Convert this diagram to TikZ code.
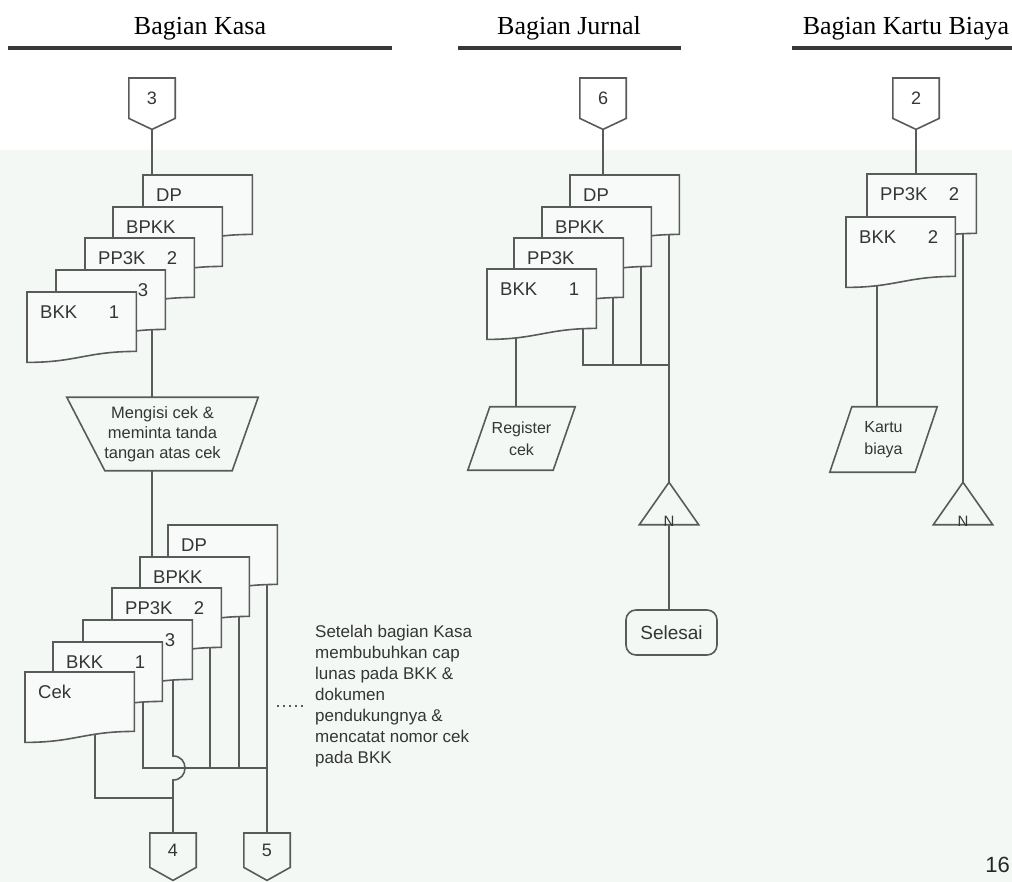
\documentclass[tikz,border=0pt]{standalone}
\usepackage{fontspec}
\setmainfont{Liberation Serif}
\newfontfamily\diafont{Liberation Sans}
\usetikzlibrary{calc}

\definecolor{ink}{HTML}{5A5A5A}
\definecolor{txt}{HTML}{353535}
\definecolor{paper}{HTML}{F4F8F5}
\definecolor{sheet}{HTML}{F8FAF9}
\definecolor{rulegray}{HTML}{383838}

\pgfdeclarelayer{ground}
\pgfdeclarelayer{wires}
\pgfsetlayers{ground,wires,main}

\tikzset{
  wire/.style={draw=ink, line width=1.6pt},
  outline/.style={draw=ink, line width=1.6pt, line join=miter},
  sheetline/.style={draw=ink, fill=sheet, line width=1.6pt, line join=miter},
  docnode/.style={rectangle, inner sep=0pt, minimum width=109pt, minimum height=59pt, anchor=north west},
  doctext/.style={text=txt, inner sep=0pt, font=\diafont\fontsize{18.5}{20}\selectfont},
  offnode/.style={rectangle, inner sep=0pt, minimum width=46pt, anchor=north, text=txt,
    font=\diafont\fontsize{18}{20}\selectfont},
  shapebox/.style={rectangle, inner sep=0pt, align=center, text=txt},
  procfont/.style={font=\diafont\fontsize{16.5}{20}\selectfont},
  iofont/.style={font=\diafont\fontsize{16}{22}\selectfont},
  ntext/.style={text=txt, inner sep=0pt, font=\diafont\fontsize{15}{16}\selectfont},
  terminal/.style={rectangle, rounded corners=10pt, draw=ink, line width=1.6pt, inner sep=0pt,
    minimum width=91pt, minimum height=45pt, text=txt, font=\diafont\fontsize{19}{22}\selectfont},
  note/.style={inner sep=0pt, align=left, text=txt, font=\diafont\fontsize{17}{21}\selectfont},
  head/.style={inner sep=0pt, anchor=base, text=black, font=\fontsize{26}{30}\selectfont},
  headrule/.style={draw=rulegray, line width=3.6pt},
  leader/.style={draw=ink, line width=2pt, dash pattern=on 2pt off 4pt},
  pagenum/.style={inner sep=0pt, anchor=base east, text=black!85, font=\diafont\fontsize{22}{24}\selectfont}
}

% off-page connector: name, top centre, label, box height, tip depth
\newcommand\offpage[5]{%
  \node[offnode, minimum height=#4] (#1) at (#2) {#3};
  \coordinate (#1-tip) at ($(#1.south)+(0,#5)$);
  \draw[outline] (#1.north west) -- (#1.north east) -- (#1.south east) -- (#1-tip)
    -- (#1.south west) -- cycle;}

% document sheet with a wavy lower edge: name, top-left corner, left text, right text
\newcommand\paperdoc[4]{%
  \node[docnode] (#1) at (#2) {};
  \filldraw[sheetline] (#1.north west) -- (#1.north east) -- (#1.south east)
    .. controls +(-50,0) and +(50,0) .. ($(#1.south west)+(0,11)$) -- cycle;
  \node[doctext, anchor=west] (#1-a) at ($(#1.north west)+(13,20)$) {#3};
  \node[doctext] (#1-b) at ($(#1.north west)+(87,20)$) {#4};}

% merge triangle with its letter on the base
\newcommand\mergetri[2]{%
  \node[rectangle, inner sep=0pt, minimum width=59pt, minimum height=42pt] (#1) at (#2) {};
  \draw[outline] (#1.south west) -- (#1.north) -- (#1.south east) -- cycle;
  \node[ntext] (#1-n) at ($(#1.south)+(0,-3)$) {N};}

\begin{document}
\begin{tikzpicture}[x=1pt, y=-1pt]
\useasboundingbox (0,0) rectangle (1012,882);
\clip (0,0) rectangle (1012,882);

\begin{pgfonlayer}{ground}
  \fill[paper] (0,0) rectangle (1012,882);
  \fill[white] (0,0) rectangle (1012,150);
\end{pgfonlayer}

% ---------- column headings ----------
\node[head] (hkasa) at (200,35) {Bagian Kasa};
\node[head] (hjurnal) at (569,35) {Bagian Jurnal};
\node[head] (hbiaya) at (906,35) {Bagian Kartu Biaya};
\draw[headrule] (8,48) -- (392,48);
\draw[headrule] (458,48) -- (681,48);
\draw[headrule] (792,48) -- (1012,48);

% ---------- Bagian Kasa ----------
\offpage{c3}{152,78}{3}{40pt}{11}
\paperdoc{kdp1}{143,175}{DP}{}
\paperdoc{kbpkk1}{113,207}{BPKK}{}
\paperdoc{kpp1}{85,238}{PP3K}{2}
\paperdoc{kthree1}{56,270}{}{3}
\paperdoc{kbkk1}{27,292}{BKK}{1}

\node[shapebox, procfont, minimum width=191pt, minimum height=73pt] (ktrap) at (162.5,434)
  {Mengisi cek \&\\meminta tanda\\tangan atas cek};
\draw[outline] (ktrap.north west) -- (ktrap.north east) -- ($(ktrap.south east)+(-26,0)$)
  -- ($(ktrap.south west)+(38,0)$) -- cycle;

\paperdoc{kdp2}{168,525}{DP}{}
\paperdoc{kbpkk2}{140,557}{BPKK}{}
\paperdoc{kpp2}{112,588}{PP3K}{2}
\paperdoc{kthree2}{83,620}{}{3}
\paperdoc{kbkk2}{53,642}{BKK}{1}
\paperdoc{kcek}{25,672}{Cek}{}

\offpage{c4}{173,833}{4}{34pt}{13}
\offpage{c5}{267,833}{5}{34pt}{13}

\node[note, anchor=west] (knote) at (315,696)
  {Setelah bagian Kasa\\membubuhkan cap\\lunas pada BKK \&\\dokumen\\pendukungnya \&\\mencatat nomor cek\\pada BKK};
\coordinate (kdotL) at ($(knote.west)+(-38,10)$);
\coordinate (kdotR) at ($(knote.west)+(-9,10)$);
\draw[leader] (kdotL) -- (kdotR);

\coordinate (kv1) at ($(kbkk2.south west)+(90,0)$);
\coordinate (kv3) at ($(kthree2.south west)+(90,0)$);
\coordinate (kv2) at ($(kpp2.south west)+(98,0)$);
\coordinate (kv4) at ($(kbpkk2.south west)+(99,0)$);
\coordinate (kv5) at ($(kdp2.south west)+(99,0)$);
\coordinate (kvc) at ($(kcek.south west)+(70,0)$);
\coordinate (kbus) at ($(c5.north)+(0,-65)$);
\coordinate (kjoin) at ($(c4.north)+(0,-35)$);

% ---------- Bagian Jurnal ----------
\offpage{c6}{603,78}{6}{40pt}{11}
\paperdoc{jdp}{570,175}{DP}{}
\paperdoc{jbpkk}{542,207}{BPKK}{}
\paperdoc{jpp}{514,238}{PP3K}{}
\paperdoc{jbkk}{487,269}{BKK}{1}

\node[shapebox, iofont, minimum width=107pt, minimum height=63pt] (jreg) at (521.5,438.5) {Register\\cek};
\draw[outline] ($(jreg.north west)+(22,0)$) -- (jreg.north east) -- ($(jreg.south east)+(-22,0)$)
  -- (jreg.south west) -- cycle;

\mergetri{jtri}{669,503.5}
\node[terminal] (jsel) at (671.5,632.5) {Selesai};

\coordinate (jv1) at ($(jbkk.south west)+(96,0)$);
\coordinate (jv2) at ($(jpp.south west)+(99,0)$);
\coordinate (jv3) at ($(jbpkk.south west)+(99,0)$);
\coordinate (jv4) at ($(jdp.south west)+(99,0)$);
\coordinate (jvr) at ($(jbkk.south west)+(29,0)$);
\coordinate (jbus) at ($(jtri.north)+(0,-117)$);

% ---------- Bagian Kartu Biaya ----------
\offpage{c2}{916,78}{2}{40pt}{11}
\paperdoc{bpp}{867,174}{PP3K}{2}
\paperdoc{bbkk}{846,217}{BKK}{2}

\node[shapebox, iofont, minimum width=107pt, minimum height=65pt] (bkartu) at (883.5,439.5) {Kartu\\biaya};
\draw[outline] ($(bkartu.north west)+(22,0)$) -- (bkartu.north east) -- ($(bkartu.south east)+(-22,0)$)
  -- (bkartu.south west) -- cycle;

\mergetri{btri}{963,503.5}

\coordinate (bv1) at ($(bpp.south west)+(96,0)$);
\coordinate (bvr) at ($(bbkk.south west)+(31,0)$);

\node[pagenum] (pnum) at (1010,872) {16};

% ---------- flow lines ----------
\begin{pgfonlayer}{wires}
  % Kasa
  \draw[wire] (c3-tip) -- (c3-tip |- kdp1.north);
  \draw[wire] (c3-tip |- kthree1.south) -- (c3-tip |- ktrap.north);
  \draw[wire] (c3-tip |- ktrap.south) -- (c3-tip |- kbpkk2.north);
  \draw[wire] (kv1) |- (kbus);
  \draw[wire] (kv2) -- (kv2 |- kbus);
  \draw[wire] (kv4) -- (kv4 |- kbus);
  \draw[wire] (kv5) -- (c5.north);
  \draw[wire] (kvc) |- (kjoin);
  \draw[wire] (kv3) -- ($(kv3 |- kbus)+(0,-12)$)
    .. controls +(16,0) and +(16,0) .. ($(kv3 |- kbus)+(0,12)$) -- (c4.north);
  % Jurnal
  \draw[wire] (c6-tip) -- (c6-tip |- jdp.north);
  \draw[wire] (jvr) -- (jvr |- jreg.north);
  \draw[wire] (jv1) |- (jbus);
  \draw[wire] (jv2) -- (jv2 |- jbus);
  \draw[wire] (jv3) -- (jv3 |- jbus);
  \draw[wire] (jv4) -- (jtri.north);
  \draw[wire] (jtri.south) -- (jtri.south |- jsel.north);
  % Kartu Biaya
  \draw[wire] (c2-tip) -- (c2-tip |- bpp.north);
  \draw[wire] (bv1) -- (btri.north);
  \draw[wire] (bvr) -- (bvr |- bkartu.north);
\end{pgfonlayer}
\end{tikzpicture}
\end{document}
